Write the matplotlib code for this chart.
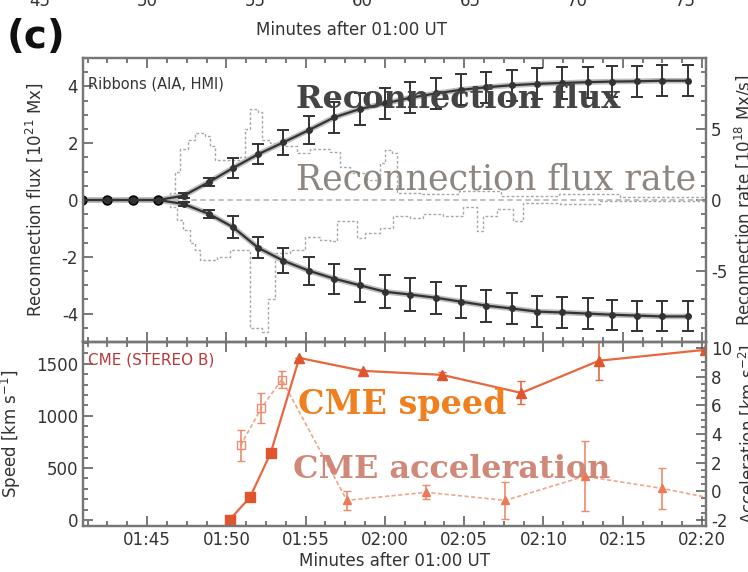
import matplotlib.pyplot as plt
from matplotlib.ticker import MultipleLocator, FuncFormatter

# --- ribbon reconnection flux (minutes after 01:00 UT) ---
t_flux = [40.9, 42.5, 44.1, 45.7, 47.3, 48.9, 50.4, 52.0, 53.6, 55.2, 56.8, 58.4, 60.0,
          61.6, 63.2, 64.8, 66.4, 68.0, 69.6, 71.2, 72.8, 74.3, 75.9, 77.5, 79.1]
flux_pos = [0, 0, 0, 0, 0.15, 0.63, 1.12, 1.61, 2.03, 2.46, 2.91, 3.2, 3.4,
            3.6, 3.75, 3.88, 3.97, 4.04, 4.09, 4.12, 4.15, 4.17, 4.18, 4.2, 4.2]
flux_pos_err = [0, 0, 0, 0, 0.08, 0.15, 0.35, 0.35, 0.45, 0.5, 0.55, 0.55, 0.55,
                0.55, 0.55, 0.55, 0.55, 0.55, 0.55, 0.55, 0.55, 0.55, 0.55, 0.55, 0.55]
flux_neg = [0, 0, 0, 0, -0.14, -0.49, -0.95, -1.68, -2.14, -2.49, -2.77, -3.0, -3.23,
            -3.33, -3.44, -3.58, -3.72, -3.82, -3.93, -3.96, -4.0, -4.04, -4.07, -4.1, -4.1]
flux_neg_err = [0, 0, 0, 0, 0.08, 0.15, 0.38, 0.36, 0.44, 0.5, 0.53, 0.58, 0.58,
                0.57, 0.56, 0.56, 0.56, 0.55, 0.55, 0.54, 0.54, 0.53, 0.53, 0.53, 0.53]

# reconnection rate, step histograms (edge time, value)
t_rate_pos = [40.96, 46.45, 46.77, 47.08, 47.59, 48.03, 48.66, 48.97, 49.29, 50.86, 51.18,
              51.49, 52.0, 52.25, 52.76, 53.7, 54.46, 55.28, 56.54, 57.17, 57.8, 58.87,
              59.69, 60.0, 60.45, 60.76, 62.2, 64.7, 67.3, 71.0, 74.8, 80.25]
rate_pos = [0, 0.5, 2.0, 3.6, 4.2, 4.7, 4.5, 3.8, 2.8, 3.0, 5.0,
            6.4, 6.2, 4.2, 4.0, 3.8, 3.3, 3.6, 3.4, 2.3, 1.9, 1.4,
            2.6, 3.5, 3.3, 0.5, 0.4, 0.6, 0.3, 0.4, 0.2, 0.2]
t_rate_neg = [40.96, 46.45, 46.89, 47.27, 47.71, 48.03, 48.34, 49.41, 50.23, 51.49, 52.25,
              52.63, 53.07, 54.02, 54.96, 55.91, 56.54, 56.98, 58.24, 58.75, 59.69, 60.51,
              61.58, 62.4, 63.66, 64.92, 65.81, 66.19, 67.07, 68.08, 68.71, 71.04, 73.56, 80.25]
rate_neg = [0, -0.5, -1.4, -2.1, -3.0, -3.5, -4.2, -4.0, -3.5, -9.0, -9.3,
            -7.0, -3.7, -3.5, -2.6, -2.8, -2.9, -1.5, -2.7, -2.3, -2.0, -1.1,
            -1.3, -1.0, -1.1, -0.5, -2.2, -1.1, -0.6, -1.5, -0.2, -0.3, -0.1, -0.1]

# --- CME kinematics, STEREO B ---
t_speed = [50.2, 51.5, 52.8, 54.6, 58.6, 63.6, 68.6, 73.5, 80.2]
speed = [0, 220, 645, 1557, 1433, 1394, 1221, 1530, 1635]
speed_err = [0, 0, 0, 0, 0, 30, 110, 185, 0]
t_acc = [50.9, 52.2, 53.5, 57.6, 62.6, 67.6, 72.6, 77.5, 80.2]
acc = [3.2, 5.8, 7.8, -0.63, -0.07, -0.63, 1.05, 0.2, -0.4]
acc_err = [1.05, 1.05, 0.6, 0.65, 0.5, 1.3, 2.45, 1.4, 0]

plt.rcParams['font.family'] = 'DejaVu Sans'
plt.rcParams['text.color'] = '#333333'
plt.rcParams['axes.unicode_minus'] = False

W, H = 748, 572
fig = plt.figure(figsize=(W / 100, H / 100), dpi=100)
ax1 = fig.add_axes([83 / W, 1 - 342 / H, 623 / W, 284 / H])
ax2 = fig.add_axes([83 / W, 1 - 526 / H, 623 / W, 184 / H], sharex=ax1)
ax1r = ax1.twinx()
ax2r = ax2.twinx()


def style(ax):
    ax.tick_params(which='both', direction='in', color='#555555', labelcolor='#333333',
                   labelsize=12, width=1.1)
    ax.tick_params(which='major', length=7)
    ax.tick_params(which='minor', length=3.5)
    for s in ax.spines.values():
        s.set_color('#777777')
        s.set_linewidth(1.6)


for a in (ax1, ax2, ax1r, ax2r):
    style(a)

hhmm = FuncFormatter(lambda m, _: f"{1 + int(round(m)) // 60:02d}:{int(round(m)) % 60:02d}")
ax1.set_xlim(40.96, 80.25)
ax1.xaxis.set_major_locator(MultipleLocator(5))
ax1.xaxis.set_minor_locator(MultipleLocator(1.25))
ax1.xaxis.set_major_formatter(hhmm)
ax1.tick_params(axis='x', which='both', top=True, labelbottom=False)
ax2.tick_params(axis='x', which='both', top=True)

# top panel: flux
ax1.set_ylim(-5, 5)
ax1.yaxis.set_major_locator(MultipleLocator(2))
ax1.yaxis.set_minor_locator(MultipleLocator(0.5))
ax1r.set_ylim(-10, 10)
ax1r.set_yticks([-5, 0, 5])
ax1r.yaxis.set_minor_locator(MultipleLocator(1))
ax1.set_zorder(ax1r.get_zorder() + 1)
ax1.patch.set_visible(False)

ax1r.axhline(0, color='#bbbbbb', lw=1.3, ls=(0, (3, 2)))
ax1r.step(t_rate_pos, rate_pos, where='post', color='#a8a8a8', lw=1, ls=(0, (2, 1.5)))
ax1r.step(t_rate_neg, rate_neg, where='post', color='#a8a8a8', lw=1, ls=(0, (2, 1.5)))

for f, e in ((flux_pos, flux_pos_err), (flux_neg, flux_neg_err)):
    ax1.plot(t_flux, f, color='#bdbdbd', lw=4, solid_capstyle='round')
    ax1.errorbar(t_flux, f, yerr=e, color='#333333', lw=1.6, marker='o', ms=4,
                 ecolor='#333333', elinewidth=1.4, capsize=4, capthick=1.4)
ax1.plot(t_flux[:4], flux_pos[:4], 'o', color='black', ms=6.5)

ax1.set_ylabel('Reconnection flux [10$^{21}$ Mx]', fontsize=12, color='#333333')
ax1.yaxis.set_label_coords(-0.061, 0.5)
ax1r.set_ylabel('Reconnection rate [10$^{18}$ Mx/s]', fontsize=12, color='#333333')
ax1r.yaxis.set_label_coords(1.042, 0.5)
ax1.text(0.008, 0.91, 'Ribbons (AIA, HMI)', transform=ax1.transAxes, fontsize=10.5,
         color='#333333', va='center')

# bottom panel: CME speed and acceleration
ax2.set_ylim(-58, 1710)
ax2.yaxis.set_major_locator(MultipleLocator(500))
ax2.yaxis.set_minor_locator(MultipleLocator(100))
ax2r.set_ylim(-2.42, 10.42)
ax2r.yaxis.set_major_locator(MultipleLocator(2))
ax2r.yaxis.set_minor_locator(MultipleLocator(0.5))
ax2.set_zorder(ax2r.get_zorder() + 1)
ax2.patch.set_visible(False)

ax2r.plot(t_acc, acc, color='#f0a58c', lw=1.2, ls=(0, (2.5, 1.5)))
ax2r.errorbar(t_acc[:3], acc[:3], yerr=acc_err[:3], fmt='s', mfc='none', mec='#ef8a6c',
              ms=6, ecolor='#ef8a6c', elinewidth=1.2, capsize=3)
ax2r.errorbar(t_acc[3:8], acc[3:8], yerr=acc_err[3:8], fmt='^', color='#ec7a58',
              ms=6, ecolor='#ef8a6c', elinewidth=1.2, capsize=3)

ax2.plot(t_speed, speed, color='#e8673f', lw=1.6)
ax2.errorbar(t_speed[:3], speed[:3], fmt='s', color='#e0552e', ms=6.5)
ax2.errorbar(t_speed[3:], speed[3:], yerr=speed_err[3:], fmt='^', color='#e0552e',
             ms=6.5, ecolor='#e8673f', elinewidth=1.2, capsize=3)

ax2.set_ylabel('Speed [km s$^{-1}$]', fontsize=12, color='#333333')
ax2.yaxis.set_label_coords(-0.097, 0.5)
ax2r.set_ylabel('Acceleration [km s$^{-2}$]', fontsize=12, color='#333333')
ax2r.yaxis.set_label_coords(1.048, 0.5)
ax2.set_xlabel('Minutes after 01:00 UT', fontsize=12, color='#333333', labelpad=2)
ax2.text(0.008, 0.9, 'CME (STEREO B)', transform=ax2.transAxes, fontsize=11,
         color='#b83a3a', va='center')

# tick labels of the panel above, cut off by the page edge
top_ticks = [45, 50, 55, 60, 65, 70, 75]
ax0 = fig.add_axes([40 / W, 1 + 13 / H, 645 / W, 20 / H])
ax0.set_xlim(45, 75)
ax0.set_xticks(top_ticks)
ax0.set_yticks([])
ax0.tick_params(axis='x', length=0, labelsize=12, labelcolor='#333333')
for s in ax0.spines.values():
    s.set_visible(False)
ax0.patch.set_visible(False)
fig.text(351 / W, 1 - 30 / H, 'Minutes after 01:00 UT', fontsize=12, ha='center',
         va='center', color='#333333')
fig.text(7 / W, 1 - 37 / H, '(c)', fontsize=28, fontweight='bold', color='#111111',
         va='center', ha='left')

# overlaid legend words
serif = 'DejaVu Serif'
fig.text(296 / W, 1 - 108 / H, 'Reconnection flux', family=serif, fontweight='bold',
         fontsize=23, color='#444444', va='baseline')
fig.text(296 / W, 1 - 190 / H, 'Reconnection flux rate', family=serif,
         fontsize=25, color='#8c8580', va='baseline')
fig.text(298 / W, 1 - 414 / H, 'CME speed', family=serif, fontweight='bold',
         fontsize=24, color='#f07f1e', va='baseline')
fig.text(293 / W, 1 - 478 / H, 'CME acceleration', family=serif, fontweight='bold',
         fontsize=23, color='#d08878', va='baseline')

fig.savefig('out.png', dpi=100)
